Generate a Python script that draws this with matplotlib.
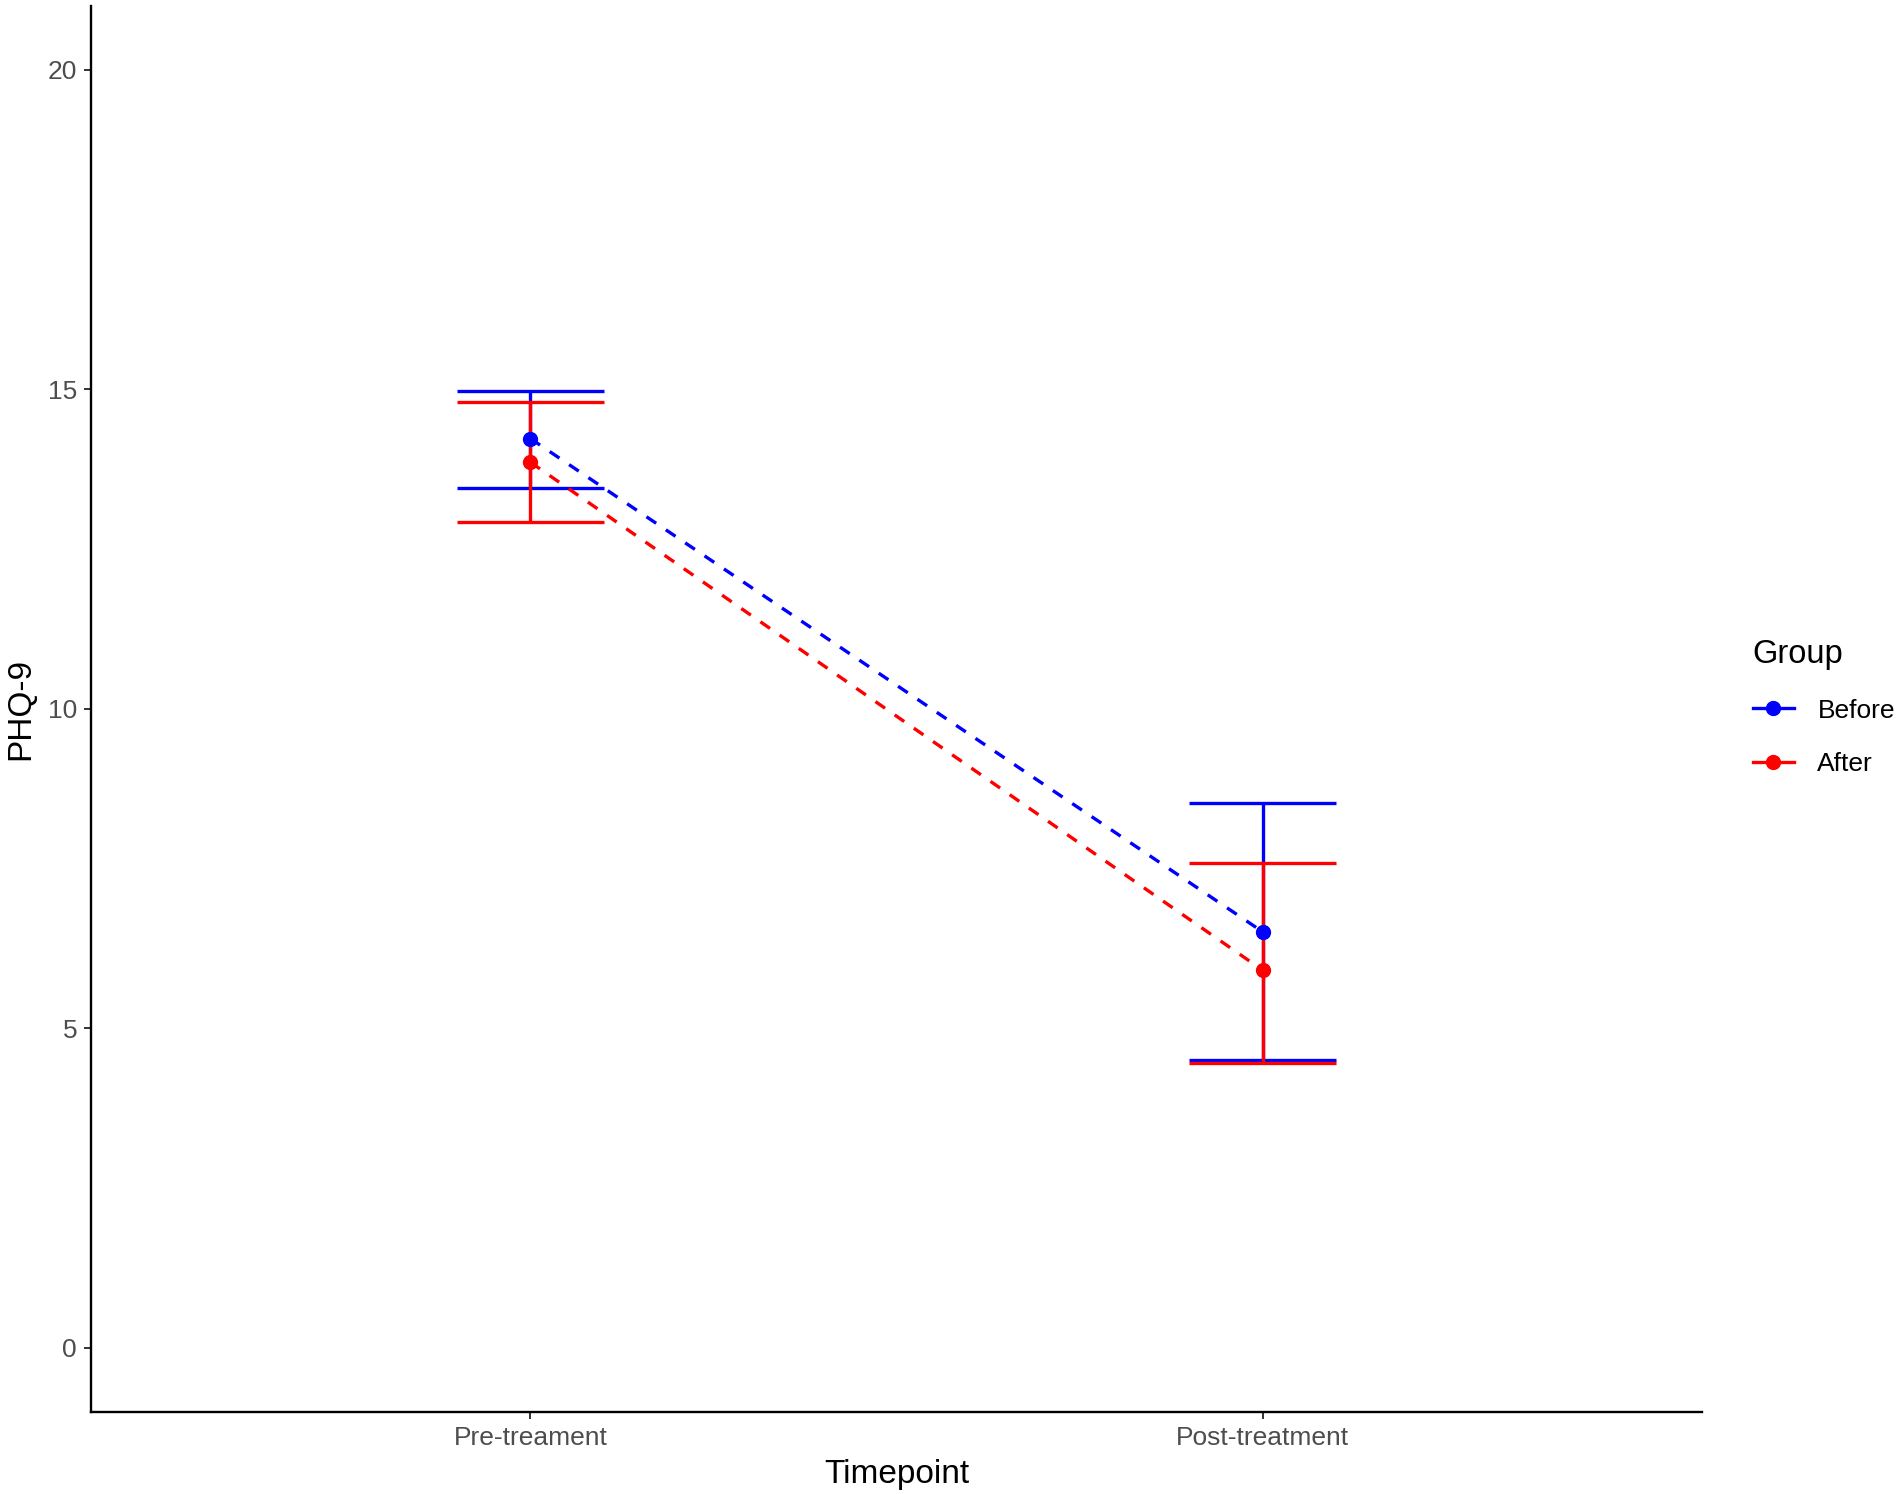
import matplotlib
matplotlib.use('Agg')
from matplotlib import pyplot as plt
from matplotlib.lines import Line2D

plt.rcParams['font.family'] = ['Liberation Sans', 'DejaVu Sans']

timepoints = ['Pre-treament', 'Post-treatment']
groups = ['Before', 'After']
colors = ['#0000FF', '#FF0000']

before_mean = [14.23, 6.51]
before_low = [13.45, 4.51]
before_high = [14.98, 8.52]

after_mean = [13.86, 5.91]
after_low = [12.93, 4.45]
after_high = [14.80, 7.58]

yticks = [0, 5, 10, 15, 20]

fig = plt.figure(figsize=(19, 14.94), dpi=100)
ax = fig.add_axes([0.0479, 0.0551, 0.8479, 0.9409])

x = [1, 2]
cap = 0.1
series = [(before_mean, before_low, before_high), (after_mean, after_low, after_high)]
for (m, lo, hi), col in zip(series, colors):
    ax.vlines(x, lo, hi, color=col, lw=2.4, zorder=2)
    ax.hlines(lo, [v - cap for v in x], [v + cap for v in x], color=col, lw=2.4, zorder=2)
    ax.hlines(hi, [v - cap for v in x], [v + cap for v in x], color=col, lw=2.4, zorder=2)
    ax.plot(x, m, color=col, lw=2.4, linestyle=(0, (3.5, 3.5)), zorder=3)
    ax.plot(x, m, 'o', color=col, ms=10, zorder=4)

ax.set_xlim(0.4, 2.6)
ax.set_ylim(-1, 21)
ax.set_xticks(x)
ax.set_xticklabels(timepoints)
ax.set_yticks(yticks)

for s in ['top', 'right']:
    ax.spines[s].set_visible(False)
for s in ['left', 'bottom']:
    ax.spines[s].set_linewidth(1.7)
    ax.spines[s].set_color('black')

ax.tick_params(axis='both', length=5, width=1.4, color='#333333',
               labelsize=19, labelcolor='#4D4D4D', pad=5)
ax.set_xlabel('Timepoint', fontsize=24, labelpad=7)
ax.set_ylabel('PHQ-9', fontsize=24, labelpad=8)

handles = [Line2D([0], [0], color=c, lw=2.4, marker='o', ms=10) for c in colors]
leg = fig.legend(handles, groups, title='Group', loc='upper left',
                 bbox_to_anchor=(0.9225, 0.5725), frameon=False,
                 fontsize=19, title_fontsize=23.5, handlelength=1.55,
                 labelspacing=1.1, handletextpad=0.9, borderaxespad=0,
                 borderpad=0)
leg._legend_box.align = 'left'

fig.savefig('out.png', dpi=100)
